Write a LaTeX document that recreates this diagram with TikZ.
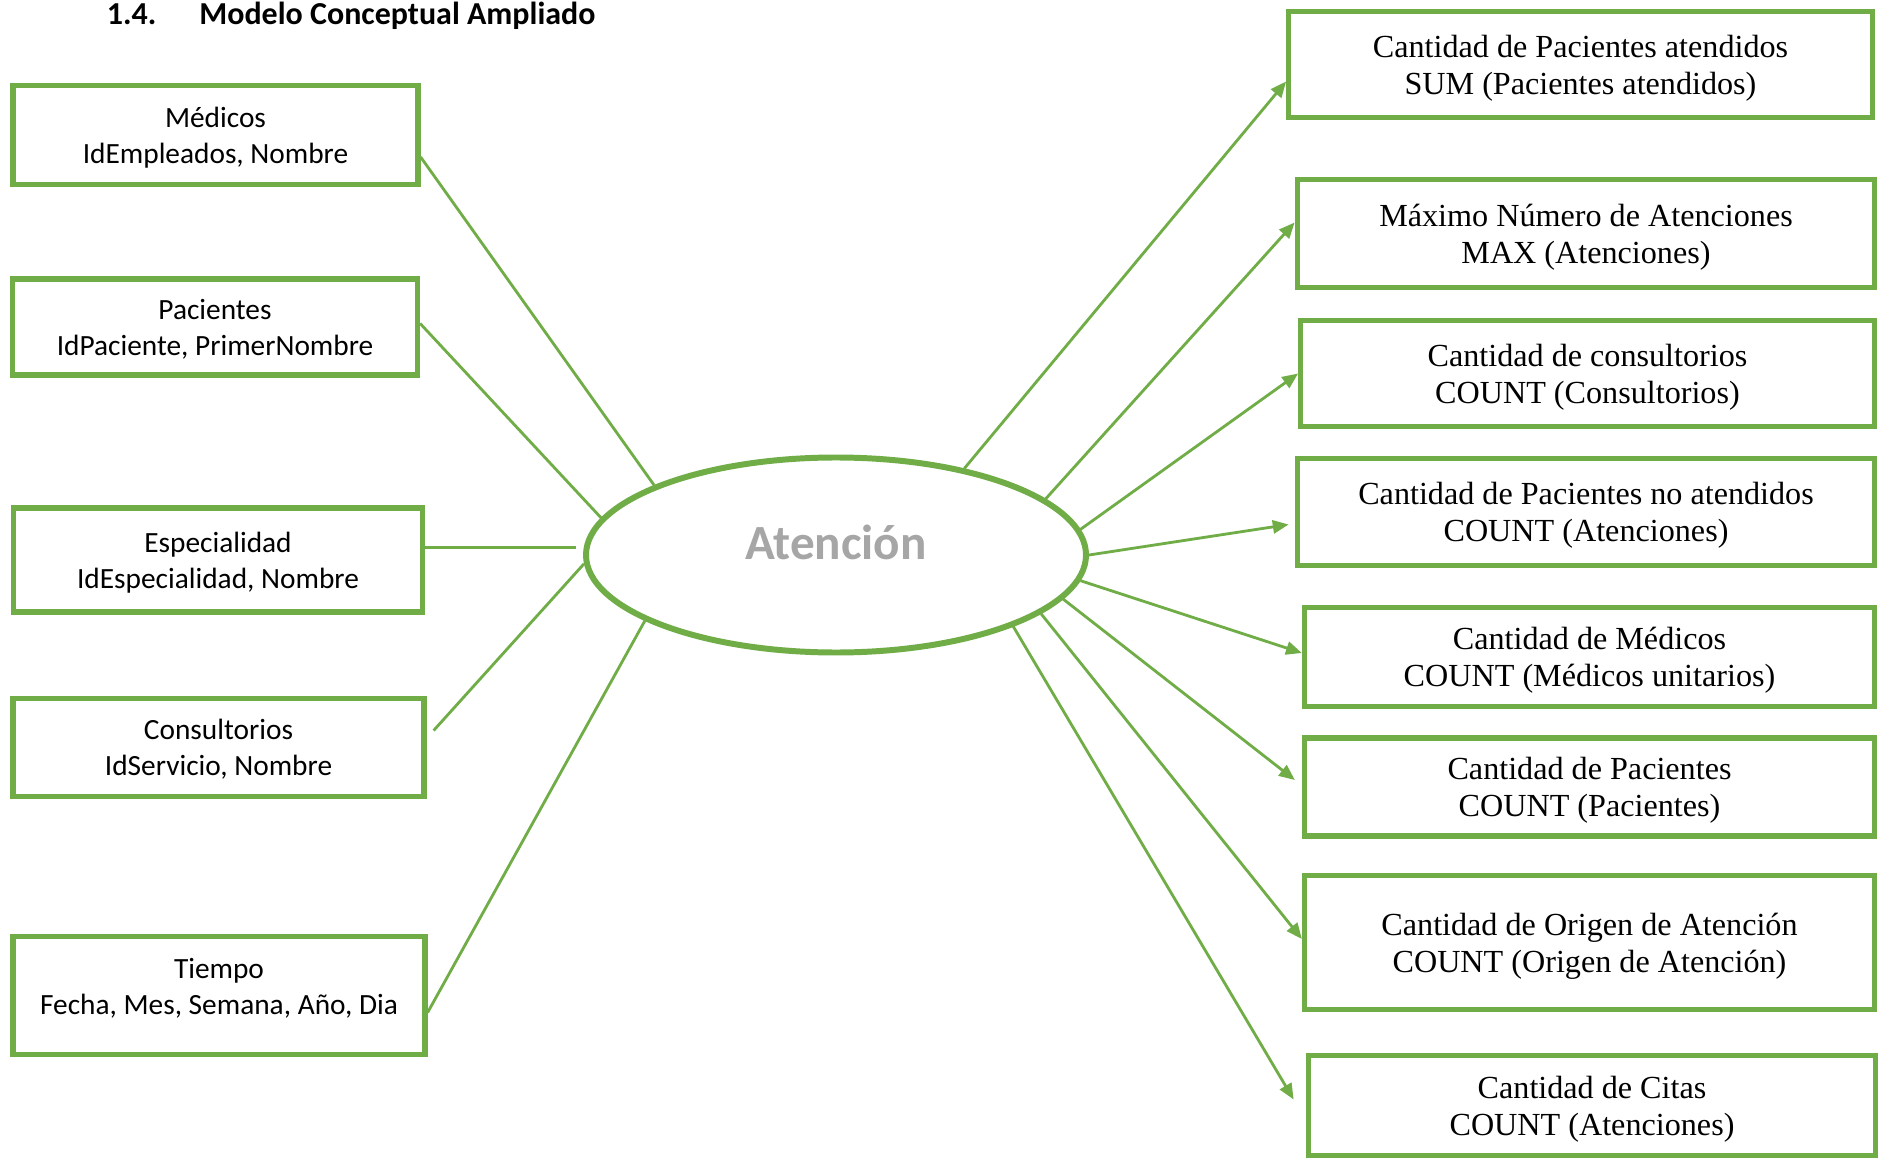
\documentclass[tikz,border=0pt]{standalone}
\usepackage{fontspec}
\setmainfont{Liberation Serif}
\newfontfamily\calibri{Carlito}
\usepackage{tikz}
\usetikzlibrary{arrows.meta,positioning,calc,shapes.geometric}
\definecolor{verdeof}{RGB}{112,173,71}
\definecolor{grisof}{RGB}{166,166,166}
\tikzset{
  dimbox/.style={
    rectangle, draw=verdeof, line width=3pt, fill=white,
    minimum width=8.1cm, align=center, inner sep=2pt, text depth=0pt,
    font=\calibri\fontsize{16.7}{20.4}\selectfont
  },
  medbox/.style={
    rectangle, draw=verdeof, line width=3pt, fill=white,
    minimum width=11.40cm, align=center, inner sep=2pt, text depth=0pt,
    font=\fontsize{18.3}{21}\selectfont
  },
  hechoell/.style={
    ellipse, draw=verdeof, line width=3.4pt, fill=white,
    minimum width=10.0cm, minimum height=3.9cm,
    text height=0.7cm, text depth=0.54cm,
    font=\calibri\bfseries\fontsize{28}{32}\selectfont, text=grisof
  },
  enlace/.style={verdeof, line width=1.6pt},
  medida/.style={-{Triangle[length=9pt,width=7.5pt]}, verdeof, line width=1.6pt}
}
\begin{document}
\begin{tikzpicture}
  \useasboundingbox (0,0) rectangle (37.56,-23.16);
  \fill[white] (0,0) rectangle (37.56,-23.16);

  % Title
  \node[anchor=base west, inner sep=0pt, font=\calibri\bfseries\fontsize{18.2}{22}\selectfont]
    (titulo) at (2.13,-0.50) {1.4.\hspace{24.5pt}Modelo Conceptual Ampliado};

  % Dimensions
  \node[dimbox, minimum height=1.99cm] (med) at (4.31,-2.70) {Médicos\\IdEmpleados, Nombre};
  \node[dimbox, minimum height=1.92cm] (pac) at (4.30,-6.54) {Pacientes\\IdPaciente, PrimerNombre};
  \node[dimbox, minimum width=8.19cm, minimum height=2.08cm] (esp) at (4.36,-11.20) {Especialidad\\IdEspecialidad, Nombre};
  \node[dimbox, minimum width=8.22cm, minimum height=1.96cm] (con) at (4.37,-14.95) {Consultorios\\IdServicio, Nombre};
  \node[dimbox, minimum width=8.24cm, minimum height=2.35cm, text depth=0.38cm] (tie) at (4.38,-19.91) {Tiempo\\Fecha, Mes, Semana, Año, Dia};

  % Fact
  \node[hechoell] (aten) at (16.72,-11.10) {Atención};

  % Measures
  \node[medbox, minimum width=11.67cm, minimum height=2.11cm] (cpa) at (31.61,-1.29) {Cantidad de Pacientes atendidos\\SUM (Pacientes atendidos)};
  \node[medbox, minimum width=11.55cm, minimum height=2.16cm] (mna) at (31.72,-4.67) {Máximo Número de Atenciones\\MAX (Atenciones)};
  \node[medbox, minimum width=11.47cm, minimum height=2.11cm] (cco) at (31.75,-7.47) {Cantidad de consultorios\\COUNT (Consultorios)};
  \node[medbox, minimum width=11.55cm, minimum height=2.13cm] (cpn) at (31.72,-10.24) {Cantidad de Pacientes no atendidos\\COUNT (Atenciones)};
  \node[medbox, minimum height=1.99cm] (cme) at (31.79,-13.14) {Cantidad de Médicos\\COUNT (Médicos unitarios)};
  \node[medbox, minimum height=1.96cm] (cpc) at (31.79,-15.74) {Cantidad de Pacientes\\COUNT (Pacientes)};
  \node[medbox, minimum height=2.68cm] (cor) at (31.79,-18.85) {Cantidad de Origen de Atención\\COUNT (Origen de Atención)};
  \node[medbox, minimum width=11.35cm, minimum height=2.01cm] (cci) at (31.84,-22.11) {Cantidad de Citas\\COUNT (Atenciones)};

  % Dimension links
  \draw[enlace] ([yshift=-0.44cm]med.east) -- (aten.159);
  \draw[enlace] ([yshift=0.07cm]pac.east) -- (aten.171);
  \coordinate (espout) at ([yshift=0.25cm]esp.east);
  \draw[enlace, shorten >=0.14cm] (espout) -- (espout -| aten.west);
  \draw[enlace] ([xshift=0.14cm,yshift=0.34cm]con.east) -- (aten.182);
  \draw[enlace] ([yshift=-0.34cm]tie.east) -- (aten.199);

  % Measure arrows
  \foreach \ang/\dst/\dx/\dy in {34/cpa/0/-0.34, 15/mna/0/0.22, 6/cco/0/0,
      0/cpn/-0.12/-0.25, 354/cme/0/0.08, 349/cpc/-0.14/0.14,
      344/cor/0/0.07, 338/cci/-0.24/0.12}
    \draw[medida] (aten.\ang) -- ([xshift=\dx cm,yshift=\dy cm]\dst.west);
\end{tikzpicture}
\end{document}
